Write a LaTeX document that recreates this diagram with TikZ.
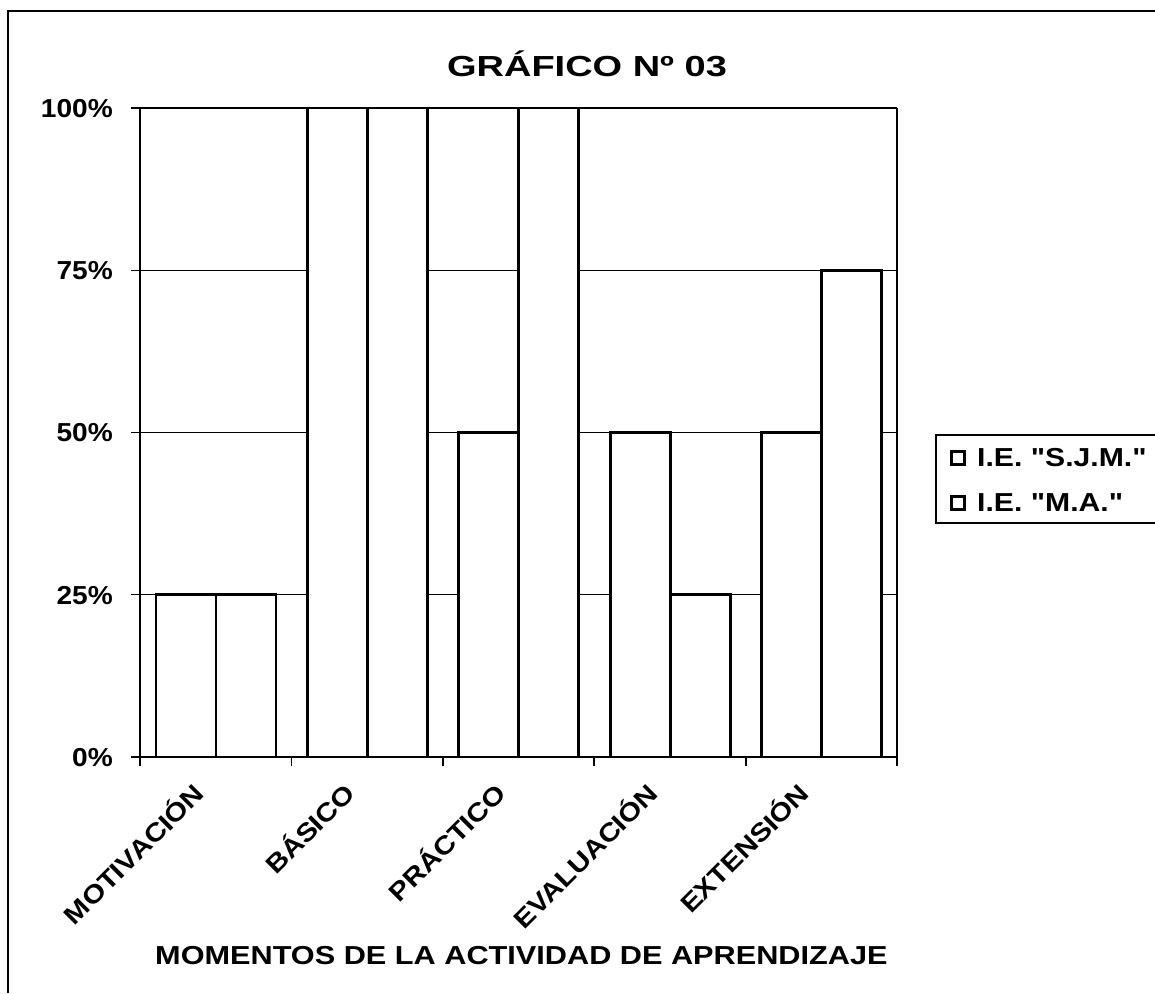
\documentclass[tikz,border=0pt]{standalone}
\usepackage{fontspec}
\usepackage{graphicx}
\setmainfont{Liberation Sans}
\newcommand{\sx}[2]{\scalebox{#1}[1]{#2}}
\begin{document}
\begin{tikzpicture}[x=1pt,y=-1pt,
  bar/.style={draw=black,fill=white,line width=2.8pt},
  gridl/.style={draw=black,line width=1.2pt},
  axisl/.style={draw=black,line width=1.8pt},
  txt/.style={font=\fontsize{26}{29}\selectfont\bfseries,inner sep=0pt},
  ctxt/.style={font=\fontsize{25.5}{29}\selectfont\bfseries,inner sep=0pt},
  btxt/.style={font=\fontsize{26}{29}\selectfont\bfseries,inner sep=0pt},
  ttxt/.style={font=\fontsize{29}{32}\selectfont\bfseries,inner sep=0pt},
  swatch/.style={draw=black,fill=white,line width=2.4pt,minimum size=13pt,inner sep=0pt}]
\useasboundingbox (0,0) rectangle (1155,993);
\fill[white] (0,0) rectangle (1155,993);
% outer frame
\draw[line width=1.8pt] (8,993) -- (8,11) -- (1155,11);
% title
\node[ttxt,anchor=base] (title) at (587,76) {\sx{1.31}{GRÁFICO Nº 03}};
% gridlines
\foreach \v in {25,50,75,100}{
  \draw[gridl] (131,{757-6.49*\v}) -- (897,{757-6.49*\v});
}
% axes
\draw[axisl] (140,108) -- (140,766);
\draw[axisl] (131,757) -- (897,757);
\draw[axisl] (897,108) -- (897,766);
\foreach \k in {1,...,4}{
  \draw[axisl] ({140+151.4*\k},757) -- ({140+151.4*\k},766);
}
% bars
\foreach \k/\a/\b in {0/25/25,1/100/100,2/50/100,3/50/25,4/50/75}{
  \pgfmathsetmacro\xl{156+151.4*\k}
  \draw[bar] (\xl,757) rectangle ({\xl+60},{757-6.49*\a});
  \draw[bar] ({\xl+60},757) rectangle ({\xl+120},{757-6.49*\b});
}
% y labels
\node[txt,anchor=base east] (y100) at (113,117) {\sx{1.08}{100\%}};
\node[txt,anchor=base east] (y75) at (113,279) {\sx{1.08}{75\%}};
\node[txt,anchor=base east] (y50) at (113,441) {\sx{1.08}{50\%}};
\node[txt,anchor=base east] (y25) at (113,604) {\sx{1.08}{25\%}};
\node[txt,anchor=base east] (y0) at (113,766) {\sx{1.08}{0\%}};
% category labels
\node[ctxt,rotate=45,anchor=base east] (c1) at (206,795) {\sx{1.15}{MOTIVACIÓN}};
\node[ctxt,rotate=45,anchor=base east] (c2) at (357,795) {\sx{1.15}{BÁSICO}};
\node[ctxt,rotate=45,anchor=base east] (c3) at (508,795) {\sx{1.15}{PRÁCTICO}};
\node[ctxt,rotate=45,anchor=base east] (c4) at (660,795) {\sx{1.15}{EVALUACIÓN}};
\node[ctxt,rotate=45,anchor=base east] (c5) at (811,795) {\sx{1.15}{EXTENSIÓN}};
% axis title
\node[btxt,anchor=base west] (xt) at (155,964) {\sx{1.18}{MOMENTOS DE LA ACTIVIDAD DE APRENDIZAJE}};
% legend
\draw[line width=1.8pt] (1156,435) -- (936,435) -- (936,523) -- (1156,523);
\node[swatch] (s1) at (958,458) {};
\node[swatch] (s2) at (958,503) {};
\node[btxt,anchor=base west] (l1) at (977,466) {\sx{1.16}{I.E. \textquotedbl S.J.M.\textquotedbl}};
\node[btxt,anchor=base west] (l2) at (977,511) {\sx{1.16}{I.E. \textquotedbl M.A.\textquotedbl}};
\end{tikzpicture}
\end{document}
